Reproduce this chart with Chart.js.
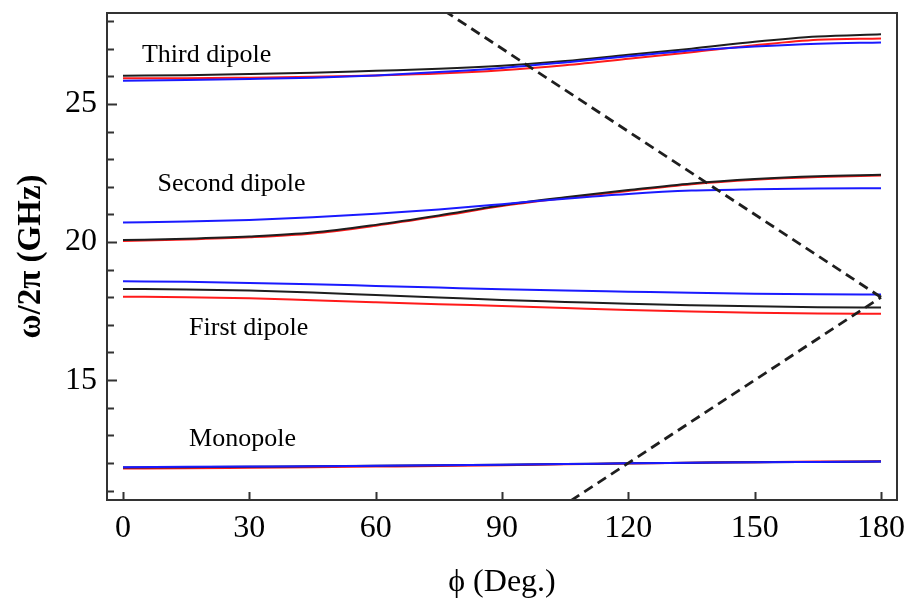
<!DOCTYPE html>
<html>
<head>
<meta charset="utf-8">
<script src="https://cdn.jsdelivr.net/npm/chart.js@4/dist/chart.umd.min.js"></script>
<style>
  html, body { margin: 0; padding: 0; background: #fff; }
  #wrap { width: 913px; height: 602px; }
</style>
</head>
<body>
<div id="wrap"><canvas id="chart" width="913" height="602"></canvas></div>
<script>
// phase angle (deg.)
const phi = [0, 15, 30, 45, 60, 75, 90, 105, 120, 135, 150, 165, 180];

// frequencies (GHz)
const thirdBlack = [26.02, 26.04, 26.08, 26.13, 26.2, 26.27, 26.38, 26.55, 26.78, 27.0, 27.25, 27.44, 27.52];
const thirdRed = [25.93, 25.93, 25.95, 25.98, 26.03, 26.1, 26.22, 26.4, 26.63, 26.87, 27.12, 27.32, 27.37];
const thirdBlue = [25.84, 25.86, 25.9, 25.95, 26.03, 26.15, 26.3, 26.5, 26.72, 26.93, 27.08, 27.18, 27.22];

const secondBlack = [20.07, 20.12, 20.2, 20.34, 20.62, 20.96, 21.33, 21.62, 21.88, 22.12, 22.28, 22.38, 22.43];
const secondRed = [20.04, 20.09, 20.17, 20.31, 20.59, 20.93, 21.3, 21.59, 21.85, 22.09, 22.25, 22.35, 22.41];
const secondBlue = [20.71, 20.74, 20.8, 20.9, 21.02, 21.18, 21.37, 21.57, 21.74, 21.86, 21.91, 21.94, 21.95];

const firstBlue = [18.58, 18.56, 18.52, 18.47, 18.41, 18.35, 18.29, 18.24, 18.2, 18.16, 18.13, 18.11, 18.1];
const firstBlack = [18.3, 18.28, 18.24, 18.17, 18.08, 17.99, 17.9, 17.83, 17.76, 17.71, 17.67, 17.64, 17.63];
const firstRed = [18.02, 18.0, 17.96, 17.89, 17.82, 17.75, 17.68, 17.61, 17.54, 17.48, 17.44, 17.41, 17.4];

const monoBlack = [11.84, 11.85, 11.86, 11.88, 11.9, 11.92, 11.94, 11.96, 11.99, 12.01, 12.03, 12.04, 12.05];
const monoRed = [11.8, 11.81, 11.83, 11.85, 11.87, 11.89, 11.92, 11.95, 11.98, 12.01, 12.03, 12.05, 12.06];
const monoBlue = [11.85, 11.86, 11.87, 11.88, 11.9, 11.92, 11.94, 11.96, 11.99, 12.01, 12.03, 12.04, 12.05];

// light lines (dashed)
const lightUpPhi = [100, 180];
const lightUp = [10, 18];
const lightDownPhi = [70, 180];
const lightDown = [29, 18];

// mode labels
const modeNames = ['Third dipole', 'Second dipole', 'First dipole', 'Monopole'];
const modePhi = [4.5, 8.2, 15.7, 15.7];
const modeFreq = [26.51, 21.83, 16.65, 12.61];

const serif = '"Liberation Serif", "Times New Roman", serif';

const pts = (xs, ys) => xs.map((x, i) => ({ x: x, y: ys[i] }));

const curve = (ys, color) => ({
  data: pts(phi, ys),
  borderColor: color,
  borderWidth: 2,
  pointRadius: 0,
  cubicInterpolationMode: 'monotone',
  fill: false,
});

const dashed = (xs, ys) => ({
  data: pts(xs, ys),
  borderColor: '#1e1e1e',
  borderWidth: 2.8,
  borderDash: [10, 6],
  pointRadius: 0,
  fill: false,
});

const BLUE = '#1a1aff';
const BLACK = '#1e1e1e';
const RED = '#ff1a1a';

// inward ticks, frame and mode labels
const framePlugin = {
  id: 'frame',
  afterDatasetsDraw(chart) {
    const { ctx, chartArea: a, scales } = chart;
    ctx.save();
    ctx.strokeStyle = '#333';
    ctx.lineWidth = 2;
    ctx.strokeRect(a.left, a.top, a.right - a.left, a.bottom - a.top);
    ctx.beginPath();
    scales.y.ticks.forEach(t => {
      const py = Math.round(scales.y.getPixelForValue(t.value)) + 0.5;
      const len = t.value % 5 === 0 ? 10 : 7;
      ctx.moveTo(a.left, py);
      ctx.lineTo(a.left + len, py);
    });
    scales.x.ticks.forEach(t => {
      const px = Math.round(scales.x.getPixelForValue(t.value)) + 0.5;
      ctx.moveTo(px, a.bottom);
      ctx.lineTo(px, a.bottom - 8);
    });
    ctx.stroke();

    ctx.fillStyle = '#000';
    ctx.font = '26px ' + serif;
    ctx.textBaseline = 'alphabetic';
    ctx.textAlign = 'left';
    modeNames.forEach((name, i) => {
      ctx.fillText(name, scales.x.getPixelForValue(modePhi[i]), scales.y.getPixelForValue(modeFreq[i]));
    });
    ctx.restore();
  }
};

new Chart(document.getElementById('chart'), {
  type: 'line',
  data: {
    datasets: [
      dashed(lightDownPhi, lightDown),
      dashed(lightUpPhi, lightUp),
      curve(thirdBlue, BLUE),
      curve(secondBlue, BLUE),
      curve(firstBlue, BLUE),
      curve(monoBlue, BLUE),
      curve(thirdBlack, BLACK),
      curve(secondBlack, BLACK),
      curve(firstBlack, BLACK),
      curve(monoBlack, BLACK),
      curve(thirdRed, RED),
      curve(secondRed, RED),
      curve(firstRed, RED),
      curve(monoRed, RED),
    ],
  },
  options: {
    responsive: false,
    animation: false,
    devicePixelRatio: 1,
    layout: { padding: { left: 0, right: 16, top: 13, bottom: 0 } },
    plugins: { legend: { display: false }, tooltip: { enabled: false } },
    scales: {
      x: {
        type: 'linear',
        min: -3.8,
        max: 183.8,
        border: { display: false },
        grid: { display: false, drawTicks: false },
        ticks: {
          stepSize: 30,
          includeBounds: false,
          autoSkip: false,
          maxRotation: 0,
          padding: 9,
          color: '#000',
          font: { family: serif, size: 32 },
        },
        title: {
          display: true,
          text: 'ϕ (Deg.)',
          color: '#000',
          font: { family: serif, size: 32 },
          padding: { top: 0, bottom: 0 },
        },
        afterFit(scale) {
          scale.height = 102;
          scale.paddingLeft = 0;
          scale.paddingRight = 0;
        },
      },
      y: {
        type: 'linear',
        min: 10.66,
        max: 28.29,
        border: { display: false },
        grid: { display: false, drawTicks: false },
        ticks: {
          stepSize: 1,
          includeBounds: false,
          autoSkip: false,
          padding: 10,
          color: '#000',
          font: { family: serif, size: 32 },
          callback: v => (v % 5 === 0 ? String(v) : ''),
        },
        title: {
          display: true,
          text: 'ω/2π (GHz)',
          color: '#000',
          font: { family: serif, size: 33, weight: 'bold' },
          padding: { top: 12, bottom: 0 },
        },
        afterFit(scale) {
          scale.width = 107;
          scale.paddingTop = 0;
          scale.paddingBottom = 0;
        },
      },
    },
  },
  plugins: [framePlugin],
});
</script>
</body>
</html>
